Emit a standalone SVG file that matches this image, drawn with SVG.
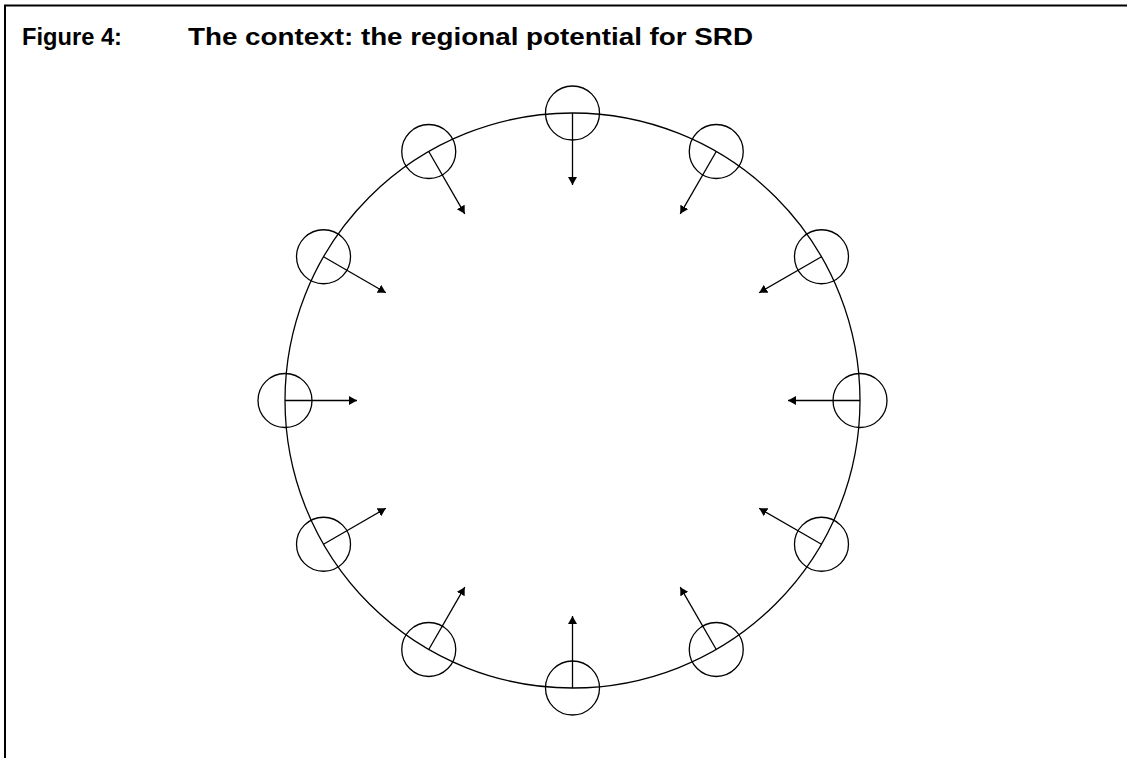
<svg xmlns="http://www.w3.org/2000/svg" width="1127" height="758" viewBox="0 0 1127 758">
<style>
.t{font-family:"Liberation Sans",Arial,sans-serif;font-weight:bold;font-size:23px;fill:#000}
.c{fill:none;stroke:#000;stroke-width:1.3}
.a{stroke:#000;stroke-width:1.3;fill:none;marker-end:url(#ah)}
</style>
<defs>
<marker id="ah" markerUnits="userSpaceOnUse" markerWidth="10" markerHeight="10" refX="8" refY="4.5" orient="auto" viewBox="0 0 10 10">
<path d="M0,0 L8,4.5 L0,9 z" fill="#000"/>
</marker>
</defs>
<rect width="1127" height="758" fill="#fff"/>
<path d="M5,758 V5.5 H1127" fill="none" stroke="#000" stroke-width="2"/>
<text class="t" x="22" y="45" textLength="100" lengthAdjust="spacingAndGlyphs">Figure 4:</text>
<text class="t" x="188" y="45" textLength="565" lengthAdjust="spacingAndGlyphs">The context: the regional potential for SRD</text>
<g id="ring"><circle class="c" cx="572.5" cy="400.5" r="287.5"/></g>
<g id="n0"><circle class="c" cx="572.5" cy="113" r="27"/></g>
<g id="n1"><circle class="c" cx="716.25" cy="151.52" r="27"/></g>
<g id="n2"><circle class="c" cx="821.48" cy="256.75" r="27"/></g>
<g id="n3"><circle class="c" cx="860" cy="400.5" r="27"/></g>
<g id="n4"><circle class="c" cx="821.48" cy="544.25" r="27"/></g>
<g id="n5"><circle class="c" cx="716.25" cy="649.48" r="27"/></g>
<g id="n6"><circle class="c" cx="572.5" cy="688" r="27"/></g>
<g id="n7"><circle class="c" cx="428.75" cy="649.48" r="27"/></g>
<g id="n8"><circle class="c" cx="323.52" cy="544.25" r="27"/></g>
<g id="n9"><circle class="c" cx="285" cy="400.5" r="27"/></g>
<g id="n10"><circle class="c" cx="323.52" cy="256.75" r="27"/></g>
<g id="n11"><circle class="c" cx="428.75" cy="151.52" r="27"/></g>
<g id="connectors">
<line class="a" x1="572.5" y1="113" x2="572.5" y2="185"/>
<line class="a" x1="716.25" y1="151.52" x2="680.25" y2="213.87"/>
<line class="a" x1="821.48" y1="256.75" x2="759.13" y2="292.75"/>
<line class="a" x1="860" y1="400.5" x2="788" y2="400.5"/>
<line class="a" x1="821.48" y1="544.25" x2="759.13" y2="508.25"/>
<line class="a" x1="716.25" y1="649.48" x2="680.25" y2="587.13"/>
<line class="a" x1="572.5" y1="688" x2="572.5" y2="616"/>
<line class="a" x1="428.75" y1="649.48" x2="464.75" y2="587.13"/>
<line class="a" x1="323.52" y1="544.25" x2="385.87" y2="508.25"/>
<line class="a" x1="285" y1="400.5" x2="357" y2="400.5"/>
<line class="a" x1="323.52" y1="256.75" x2="385.87" y2="292.75"/>
<line class="a" x1="428.75" y1="151.52" x2="464.75" y2="213.87"/>
</g>
</svg>
